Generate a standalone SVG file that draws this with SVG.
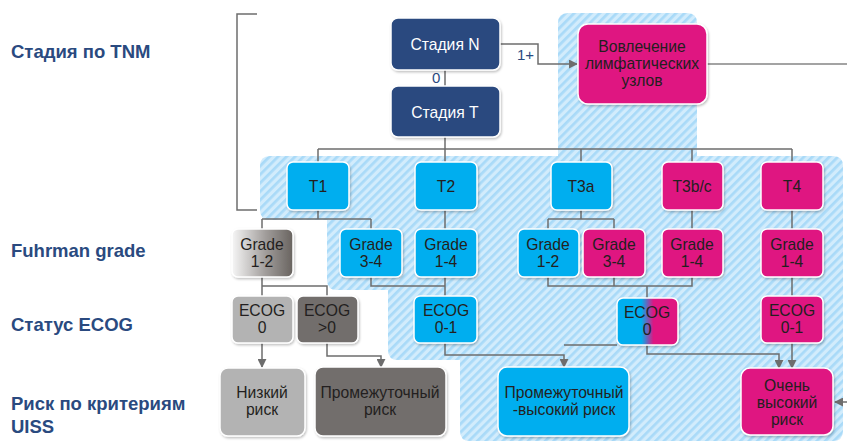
<svg xmlns="http://www.w3.org/2000/svg" width="847" height="444" viewBox="0 0 847 444">
  <style>
    .lbl { font-family: "Liberation Sans", Arial, sans-serif; font-weight: bold; font-size: 18.5px; fill: #2a4a7f; }
    .t { font-family: "Liberation Sans", Arial, sans-serif; font-size: 15.7px; fill: #231f20; text-anchor: middle; }
    .tw { fill: #ffffff; }
    .small { font-family: "Liberation Sans", Arial, sans-serif; font-size: 15px; fill: #2a4a7f; }
    .box { stroke: #ffffff; stroke-width: 1.5; filter: url(#sh); }
    .navy { fill: #2a4a7f; }
    .blue { fill: #00aeef; }
    .mag { fill: #df1581; }
    .lgray { fill: #b3b3b3; }
    .dgray { fill: #726e6c; }
    .ln { fill: none; stroke: #6d6d6d; stroke-width: 1.5; }
    .arr { marker-end: url(#ah); }
  </style>
  <defs>
    <pattern id="hatch" width="6" height="6" patternUnits="userSpaceOnUse" patternTransform="rotate(45)">
      <rect width="6" height="6" fill="#d2ecfc"/>
      <rect width="2.7" height="6" fill="#a9daf8"/>
    </pattern>
    <linearGradient id="g12" x1="0" y1="0" x2="1" y2="0">
      <stop offset="0" stop-color="#f6f6f6"/>
      <stop offset="0.55" stop-color="#a19d9b"/>
      <stop offset="1" stop-color="#68635f"/>
    </linearGradient>
    <linearGradient id="gsplit" x1="0" y1="0" x2="1" y2="0">
      <stop offset="0" stop-color="#00aeef"/>
      <stop offset="0.4" stop-color="#00aeef"/>
      <stop offset="0.6" stop-color="#df1581"/>
      <stop offset="1" stop-color="#df1581"/>
    </linearGradient>
    <filter id="sh" x="-10%" y="-10%" width="130%" height="130%">
      <feDropShadow dx="1" dy="1.5" stdDeviation="1.2" flood-color="#000" flood-opacity="0.25"/>
    </filter>
    <marker id="ah" viewBox="0 0 10 10" refX="9" refY="5" markerWidth="9" markerHeight="9" markerUnits="userSpaceOnUse" orient="auto">
      <path d="M0,0 L10,5 L0,10 Z" fill="#6d6d6d"/>
    </marker>
  </defs>

  <!-- hatched high-risk zone -->
  <path id="zone" fill="url(#hatch)" d="M568,13 H687 Q697,13 697,23 V156 H833 Q843,156 843,166 V431 Q843,441 833,441 H470 Q460,441 460,431 V360 H398 Q388,360 388,350 V290 H337 Q327,290 327,280 V220 H270 Q260,220 260,210 V166 Q260,156 270,156 H558 V23 Q558,13 568,13 Z"/>

  <!-- row captions -->
  <g id="captions">
    <text class="lbl" x="11" y="58">Стадия по TNM</text>
    <text class="lbl" x="11" y="257">Fuhrman grade</text>
    <text class="lbl" x="11" y="331">Статус ECOG</text>
    <text class="lbl" x="11" y="410">Риск по критериям</text>
    <text class="lbl" x="11" y="433">UISS</text>
  </g>

  <!-- connectors -->
  <g id="connectors">
    <path class="ln" d="M257,14 H237 V210 H257"/>
    <path class="ln" d="M445,70 V86"/>
    <path class="ln arr" d="M500,44 H538 V64 H577"/>
    <path d="M707,64 H847" fill="none" stroke="#a3a3a3" stroke-width="2"/>
    <path class="ln arr" d="M847,402 H835"/>
    <path class="ln" d="M445,137 V149 M318,149 H792 M318,149 V162 M445,149 V162 M581,149 V162 M692,149 V162 M792,149 V162"/>
    <path class="ln" d="M318,210 V219 M262,219 H371 M262,219 V229 M371,219 V229"/>
    <path class="ln" d="M445,210 V229"/>
    <path class="ln" d="M581,210 V219 M548,219 H614 M548,219 V229 M614,219 V229"/>
    <path class="ln" d="M692,210 V229 M792,210 V229"/>
    <path class="ln" d="M262,277 V296 M262,286 H327 V296"/>
    <path class="ln" d="M371,277 V286 H445 M445,277 V296"/>
    <path class="ln" d="M548,277 V286 H692 V277 M614,277 V286 M647,286 V298"/>
    <path class="ln" d="M792,277 V296"/>
    <path class="ln arr" d="M262,343 V367"/>
    <path class="ln arr" d="M327,343 V356 H381 V367"/>
    <path class="ln arr" d="M445,343 V355 H564 V367"/>
    <path class="ln" d="M617,345 H564"/>
    <path class="ln arr" d="M647,345 V354 H779 V368"/>
    <path class="ln arr" d="M792,343 V368"/>
  </g>

  <!-- edge labels -->
  <text class="small" x="432" y="83">0</text>
  <text class="small" x="517" y="60">1+</text>

  <g id="stage-n"><rect class="box navy" x="391" y="18" width="109" height="52" rx="7"/><text class="t tw" x="445" y="50">Стадия N</text></g>
  <g id="stage-t"><rect class="box navy" x="391" y="86" width="109" height="51" rx="7"/><text class="t tw" x="445" y="118">Стадия T</text></g>
  <g id="nodes-involved"><rect class="box mag" x="578" y="24" width="129" height="80" rx="10"/><text class="t" x="642" y="52">Вовлечение</text><text class="t" x="642" y="69">лимфатических</text><text class="t" x="642" y="86">узлов</text></g>

  <g id="t1"><rect class="box blue" x="287" y="162" width="62" height="48" rx="6"/><text class="t" x="318" y="192">T1</text></g>
  <g id="t2"><rect class="box blue" x="415" y="162" width="62" height="48" rx="6"/><text class="t" x="446" y="192">T2</text></g>
  <g id="t3a"><rect class="box blue" x="551" y="162" width="61" height="48" rx="6"/><text class="t" x="581" y="192">T3a</text></g>
  <g id="t3bc"><rect class="box mag" x="662" y="162" width="61" height="48" rx="6"/><text class="t" x="692" y="192">T3b/c</text></g>
  <g id="t4"><rect class="box mag" x="761" y="162" width="62" height="48" rx="6"/><text class="t" x="792" y="192">T4</text></g>

  <g id="t1-g12"><rect class="box" fill="url(#g12)" x="232" y="229" width="61" height="48" rx="6"/><text class="t" x="262" y="250">Grade</text><text class="t" x="262" y="267">1-2</text></g>
  <g id="t1-g34"><rect class="box blue" x="340" y="229" width="62" height="48" rx="6"/><text class="t" x="371" y="250">Grade</text><text class="t" x="371" y="267">3-4</text></g>
  <g id="t2-g14"><rect class="box blue" x="415" y="229" width="62" height="48" rx="6"/><text class="t" x="446" y="250">Grade</text><text class="t" x="446" y="267">1-4</text></g>
  <g id="t3a-g12"><rect class="box blue" x="518" y="229" width="61" height="48" rx="6"/><text class="t" x="548" y="250">Grade</text><text class="t" x="548" y="267">1-2</text></g>
  <g id="t3a-g34"><rect class="box mag" x="583" y="229" width="62" height="48" rx="6"/><text class="t" x="614" y="250">Grade</text><text class="t" x="614" y="267">3-4</text></g>
  <g id="t3bc-g14"><rect class="box mag" x="662" y="229" width="61" height="48" rx="6"/><text class="t" x="692" y="250">Grade</text><text class="t" x="692" y="267">1-4</text></g>
  <g id="t4-g14"><rect class="box mag" x="761" y="229" width="62" height="48" rx="6"/><text class="t" x="792" y="250">Grade</text><text class="t" x="792" y="267">1-4</text></g>

  <g id="ecog-0-low"><rect class="box lgray" x="232" y="296" width="61" height="47" rx="6"/><text class="t" x="262" y="316">ECOG</text><text class="t" x="262" y="333">0</text></g>
  <g id="ecog-gt0"><rect class="box dgray" x="297" y="296" width="61" height="47" rx="6"/><text class="t" x="327" y="316">ECOG</text><text class="t" x="327" y="333">&gt;0</text></g>
  <g id="ecog-01-blue"><rect class="box blue" x="414" y="296" width="63" height="47" rx="6"/><text class="t" x="446" y="316">ECOG</text><text class="t" x="446" y="333">0-1</text></g>
  <g id="ecog-0-split"><rect class="box" fill="url(#gsplit)" x="617" y="298" width="61" height="47" rx="6"/><text class="t" x="647" y="318">ECOG</text><text class="t" x="647" y="335">0</text></g>
  <g id="ecog-01-mag"><rect class="box mag" x="761" y="296" width="62" height="47" rx="6"/><text class="t" x="792" y="316">ECOG</text><text class="t" x="792" y="333">0-1</text></g>

  <g id="risk-low"><rect class="box lgray" x="220" y="368" width="85" height="68" rx="8"/><text class="t" x="262" y="398">Низкий</text><text class="t" x="262" y="415">риск</text></g>
  <g id="risk-mid"><rect class="box dgray" x="315" y="367" width="131" height="69" rx="8"/><text class="t" x="380" y="398">Промежуточный</text><text class="t" x="380" y="415">риск</text></g>
  <g id="risk-midhigh"><rect class="box blue" x="498" y="367" width="131" height="69" rx="9"/><text class="t" x="564" y="398">Промежуточный</text><text class="t" x="564" y="415">-высокий риск</text></g>
  <g id="risk-veryhigh"><rect class="box mag" x="741" y="368" width="92" height="67" rx="9"/><text class="t" x="787" y="391">Очень</text><text class="t" x="787" y="408">высокий</text><text class="t" x="787" y="425">риск</text></g>
</svg>
